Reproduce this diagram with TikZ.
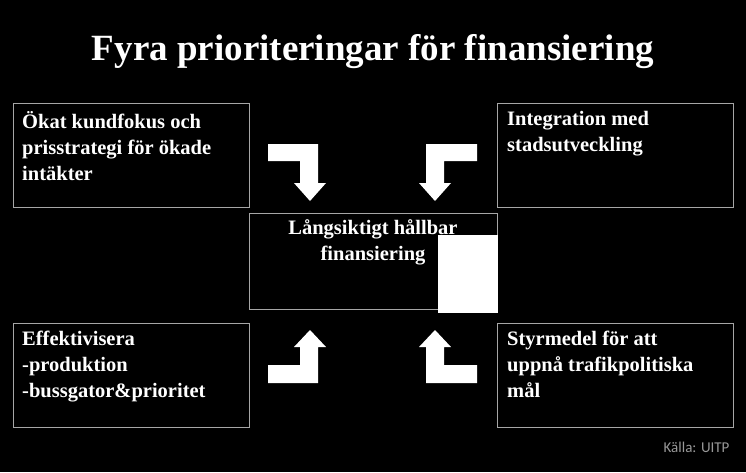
\documentclass[tikz,border=0pt]{standalone}
\usepackage{fontspec}
\setmainfont{Liberation Serif}
\newfontfamily\kallafont{Carlito}
\begin{document}
\begin{tikzpicture}[x=1pt,y=-1pt,
  box/.style={anchor=north west,text=white,
    font=\bfseries\fontsize{20.5}{26}\selectfont,align=left,inner sep=0pt},
  bentarrow/.style={fill=white,draw=none}]
\fill[black] (0,0) rectangle (746,472);
\useasboundingbox (0,0) rectangle (746,472);
\node (title) at (373,52) {\textcolor{white}{\bfseries\fontsize{37}{42}\selectfont Fyra prioriteringar för finansiering}};
% boxes
\draw[gray!70,line width=0.8pt] (13,103) rectangle (249,207);
\node[box] (tl) at (22,111) {Ökat kundfokus och\\prisstrategi för ökade\\intäkter};
\draw[gray!70,line width=0.8pt] (497,103) rectangle (733,207);
\node[box] (tr) at (507,111) {Integration med\\stadsutveckling};
\draw[gray!70,line width=0.8pt] (249,213) rectangle (497,309);
\node[box,anchor=north,align=center] (mid) at (373,219) {Långsiktigt hållbar\\finansiering};
\draw[gray!70,line width=0.8pt] (13,323) rectangle (249,427);
\node[box] (bl) at (22,331) {Effektivisera\\-produktion\\-bussgator\&prioritet};
\draw[gray!70,line width=0.8pt] (497,323) rectangle (733,427);
\node[box] (br) at (507,331) {Styrmedel för att\\uppnå trafikpolitiska\\mål};
\fill[white] (438,235) rectangle (498,313);
% bent arrows
\fill[bentarrow] (268,144) -- (318,144) -- (318,183) -- (326,183) -- (310,201) -- (294,183) -- (300,183) -- (300,161) -- (268,161) -- cycle;
\fill[bentarrow] (477,144) -- (426,144) -- (426,183) -- (419,183) -- (435,201) -- (451,183) -- (444,183) -- (444,161) -- (477,161) -- cycle;
\fill[bentarrow] (268,383) -- (318,383) -- (318,347) -- (326,347) -- (310,330) -- (294,347) -- (300,347) -- (300,365) -- (268,365) -- cycle;
\fill[bentarrow] (477,383) -- (426,383) -- (426,347) -- (419,347) -- (435,330) -- (451,347) -- (444,347) -- (444,365) -- (477,365) -- cycle;
\node[anchor=east,text=gray!80,font=\kallafont\fontsize{15}{17}\selectfont] (src) at (733,447) {Källa: UITP};
\end{tikzpicture}
\end{document}
